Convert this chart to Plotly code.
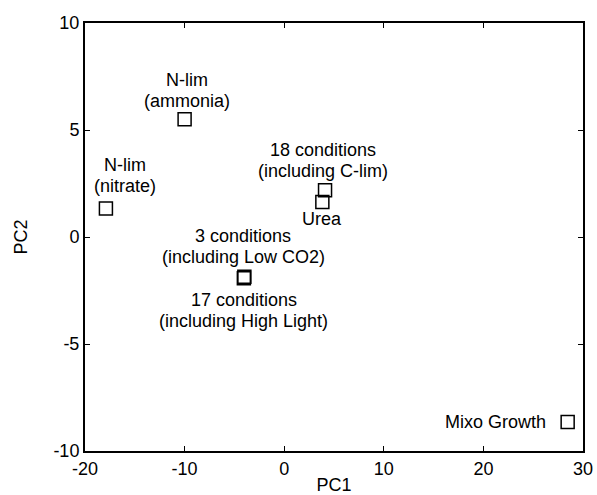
import plotly.graph_objects as go

# Data (PC scores)
labels = ["N-lim (nitrate)", "N-lim (ammonia)", "18 conditions", "Urea",
          "3 conditions", "17 conditions", "Mixo Growth"]
pc1 = [-17.9, -10.0, 4.1, 3.83, -4.0, -4.05, 28.46]
pc2 = [1.33, 5.5, 2.19, 1.63, -1.86, -1.93, -8.65]

# text lines attached to each point
text_lines = [
    ["N-lim", "(nitrate)"],
    ["N-lim", "(ammonia)"],
    ["18 conditions", "(including C-lim)"],
    ["Urea"],
    ["3 conditions", "(including Low CO2)"],
    ["17 conditions", "(including High Light)"],
    ["Mixo Growth"],
]

x_ticks = [-20, -10, 0, 10, 20, 30]
y_ticks = [-10, -5, 0, 5, 10]

FONT = "Liberation Sans, Arial, sans-serif"
FS = 18
LINE_GAP = 21

# label placement: (xshift px, centre yshift px of label block, xanchor)
placement = [
    (19, 33, "center"),
    (2, 29, "center"),
    (-2, 29.5, "center"),
    (0, -17, "center"),
    (-1, 30.5, "center"),
    (0, -32, "center"),
    (-21, 0, "right"),
]

fig = go.Figure()
fig.add_trace(go.Scatter(
    x=pc1, y=pc2, mode="markers",
    marker=dict(symbol="square-open", size=13, color="black", line=dict(width=1.5, color="black")),
    showlegend=False, hoverinfo="skip"))

anns = []
for i, lines in enumerate(text_lines):
    xs, yc, xa = placement[i]
    n = len(lines)
    for k, line in enumerate(lines):
        ys = yc + ((n - 1) / 2 - k) * LINE_GAP
        anns.append(dict(x=pc1[i], y=pc2[i], xref="x", yref="y", text=line,
                         showarrow=False, xanchor=xa, yanchor="middle",
                         xshift=xs, yshift=ys, borderpad=0,
                         font=dict(family=FONT, size=FS, color="black")))

axis_common = dict(showline=True, linecolor="black", linewidth=2, mirror="ticks",
                   ticks="inside", ticklen=5, tickwidth=1, tickcolor="black",
                   showgrid=False, zeroline=False,
                   tickfont=dict(family=FONT, size=FS, color="black"))

fig.update_layout(
    width=597, height=495,
    margin=dict(l=85, r=14, t=23, b=44),
    paper_bgcolor="white", plot_bgcolor="white",
    annotations=anns,
    xaxis=dict(range=[-20, 30], tickvals=x_ticks, ticktext=[str(v) for v in x_ticks],
               title=dict(text="PC1", font=dict(family=FONT, size=FS, color="black"), standoff=5),
               automargin=False, **axis_common),
    yaxis=dict(range=[-10, 10], tickvals=y_ticks, ticktext=[str(v) for v in y_ticks],
               title=dict(text="PC2", font=dict(family=FONT, size=FS, color="black"), standoff=21),
               automargin=False, **axis_common),
)

fig.write_html("out.html")
